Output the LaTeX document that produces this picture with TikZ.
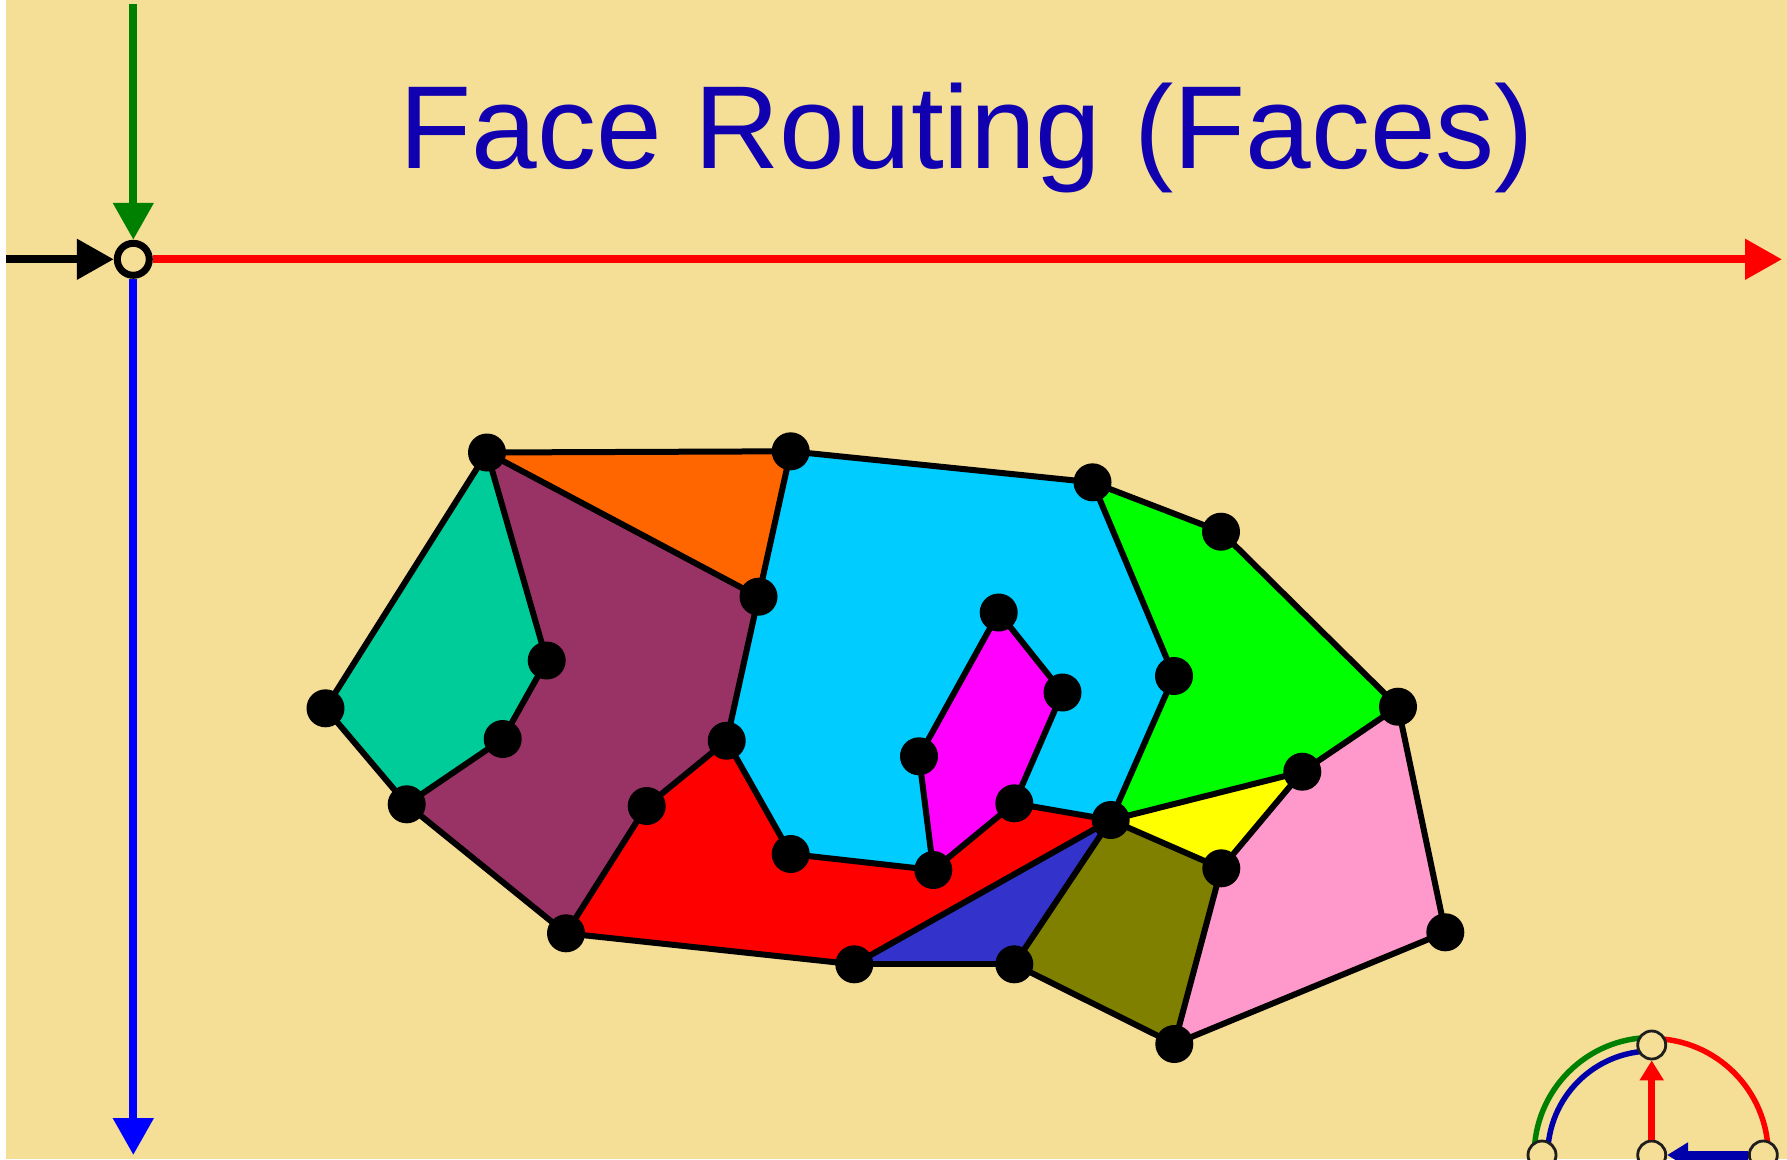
\documentclass[tikz,border=0pt]{standalone}
\usepackage{fontspec}
\setmainfont{Liberation Sans}
\usetikzlibrary{arrows.meta}
\definecolor{bgc}{RGB}{245,222,150}
\definecolor{titlec}{RGB}{16,0,176}
\definecolor{fteal}{HTML}{00CC99}
\definecolor{fmaroon}{HTML}{993366}
\definecolor{forange}{HTML}{FF6600}
\definecolor{fcyan}{HTML}{00CCFF}
\definecolor{fmagenta}{HTML}{FF00FF}
\definecolor{fred}{HTML}{FF0000}
\definecolor{fblue}{HTML}{3333CC}
\definecolor{folive}{HTML}{808000}
\definecolor{fyellow}{HTML}{FFFF00}
\definecolor{fgreen}{HTML}{00FF00}
\definecolor{fpink}{HTML}{FF99CC}
\definecolor{axgreen}{HTML}{008000}
\definecolor{darkblue}{HTML}{0000AA}
\definecolor{ringc}{RGB}{30,30,30}
\pgfdeclarelayer{bglayer}
\pgfdeclarelayer{back}
\pgfsetlayers{bglayer,back,main}
\tikzset{
  dot/.style={circle,fill=black,minimum size=38pt,inner sep=0pt},
  edge/.style={line width=6pt,black,line cap=round},
  ring/.style={circle,draw=ringc,line width=2.8pt,fill=bgc,minimum size=28pt,inner sep=0pt},
  bigtip/.style={-{Triangle[length=37pt,width=39pt]}},
  axis/.style={line width=8pt,bigtip},
  arcline/.style={line width=5.5pt},
}
\begin{document}
\begin{tikzpicture}[x=1pt,y=-1pt]
\useasboundingbox (0,0) rectangle (1787,1159);
\begin{pgfonlayer}{bglayer}
  \fill[white] (0,0) rectangle (1787,1159);
  \fill[bgc] (6,0) rectangle (1787,1159);
\end{pgfonlayer}

% title
\node[titlec,anchor=base,inner sep=0pt,font=\fontsize{118}{140}\selectfont] (title) at (967,168) {Face Routing (Faces)};

% axes
\node[circle,draw=black,line width=7pt,fill=bgc,minimum size=32pt,inner sep=0pt] (orig) at (133.3,259.3) {};
\coordinate (ystart) at (133.3,4);
\coordinate (xstart) at (6,259.3);
\coordinate (xend) at (1782,259.3);
\coordinate (yend) at (133.3,1155);
\draw[axis,axgreen] (ystart) -- (orig);
\draw[axis,black] (xstart) -- (orig);
\draw[axis,red] (orig) -- (xend);
\draw[axis,blue] (orig) -- (yend);

% graph vertices
\node[dot] (A) at (487,452.5) {};
\node[dot] (B) at (790.7,451.3) {};
\node[dot] (C) at (1092.5,482.3) {};
\node[dot] (D) at (1221,531.7) {};
\node[dot] (E) at (758.5,596.7) {};
\node[dot] (F) at (998.7,612.5) {};
\node[dot] (G) at (546.7,660.5) {};
\node[dot] (H) at (1062.5,692.5) {};
\node[dot] (I) at (1174,676) {};
\node[dot] (J) at (325.5,708.3) {};
\node[dot] (K) at (1398,706.7) {};
\node[dot] (L) at (502.7,739) {};
\node[dot] (M) at (726.7,740.7) {};
\node[dot] (N) at (919,756.3) {};
\node[dot] (O) at (1302.3,771.7) {};
\node[dot] (P) at (406.7,804.3) {};
\node[dot] (Q) at (646.7,806) {};
\node[dot] (R) at (1014.3,803.3) {};
\node[dot] (S) at (1110.7,820) {};
\node[dot] (T) at (790.7,854) {};
\node[dot] (U) at (933.3,870) {};
\node[dot] (V) at (1221.3,868.3) {};
\node[dot] (W) at (566,933.3) {};
\node[dot] (X) at (1445.3,932.3) {};
\node[dot] (Y) at (854.3,964.3) {};
\node[dot] (Z) at (1014.3,964.3) {};
\node[dot] (AA) at (1174.3,1044) {};

\begin{pgfonlayer}{back}
  % faces
  \fill[fteal] (J.center) -- (A.center) -- (G.center) -- (L.center) -- (P.center) -- cycle;
  \fill[fmaroon] (A.center) -- (E.center) -- (M.center) -- (Q.center) -- (W.center) -- (P.center) -- (L.center) -- (G.center) -- cycle;
  \fill[forange] (A.center) -- (B.center) -- (E.center) -- cycle;
  \fill[fcyan] (B.center) -- (C.center) -- (I.center) -- (S.center) -- (R.center) -- (H.center) -- (F.center) -- (N.center) -- (U.center) -- (T.center) -- (M.center) -- (E.center) -- cycle;
  \fill[fmagenta] (N.center) -- (F.center) -- (H.center) -- (R.center) -- (U.center) -- cycle;
  \fill[fred] (Q.center) -- (M.center) -- (T.center) -- (U.center) -- (R.center) -- (S.center) -- (Y.center) -- (W.center) -- cycle;
  \fill[fblue] (S.center) -- (Z.center) -- (Y.center) -- cycle;
  \fill[folive] (S.center) -- (V.center) -- (AA.center) -- (Z.center) -- cycle;
  \fill[fyellow] (S.center) -- (O.center) -- (V.center) -- cycle;
  \fill[fgreen] (C.center) -- (D.center) -- (K.center) -- (O.center) -- (S.center) -- (I.center) -- cycle;
  \fill[fpink] (O.center) -- (K.center) -- (X.center) -- (AA.center) -- (V.center) -- cycle;
  % edges
  \draw[edge] (A.center) -- (B.center);
  \draw[edge] (B.center) -- (C.center);
  \draw[edge] (C.center) -- (D.center);
  \draw[edge] (D.center) -- (K.center);
  \draw[edge] (K.center) -- (X.center);
  \draw[edge] (X.center) -- (AA.center);
  \draw[edge] (AA.center) -- (Z.center);
  \draw[edge] (Z.center) -- (Y.center);
  \draw[edge] (Y.center) -- (W.center);
  \draw[edge] (W.center) -- (P.center);
  \draw[edge] (P.center) -- (J.center);
  \draw[edge] (J.center) -- (A.center);
  \draw[edge] (A.center) -- (G.center);
  \draw[edge] (G.center) -- (L.center);
  \draw[edge] (L.center) -- (P.center);
  \draw[edge] (A.center) -- (E.center);
  \draw[edge] (B.center) -- (E.center);
  \draw[edge] (E.center) -- (M.center);
  \draw[edge] (M.center) -- (Q.center);
  \draw[edge] (Q.center) -- (W.center);
  \draw[edge] (M.center) -- (T.center);
  \draw[edge] (T.center) -- (U.center);
  \draw[edge] (U.center) -- (N.center);
  \draw[edge] (N.center) -- (F.center);
  \draw[edge] (F.center) -- (H.center);
  \draw[edge] (H.center) -- (R.center);
  \draw[edge] (U.center) -- (R.center);
  \draw[edge] (R.center) -- (S.center);
  \draw[edge] (C.center) -- (I.center);
  \draw[edge] (I.center) -- (S.center);
  \draw[edge] (S.center) -- (O.center);
  \draw[edge] (O.center) -- (K.center);
  \draw[edge] (O.center) -- (V.center);
  \draw[edge] (S.center) -- (V.center);
  \draw[edge] (V.center) -- (AA.center);
  \draw[edge] (S.center) -- (Z.center);
  \draw[edge] (S.center) -- (Y.center);
\end{pgfonlayer}

% bottom-right widget
\coordinate (wc) at (1651.7,1155);
\node[ring] (w1) at (1542,1155) {};
\node[ring] (w2) at (1651.7,1045) {};
\node[ring] (w3) at (1651.7,1155) {};
\node[ring] (w4) at (1763.3,1155) {};
\begin{pgfonlayer}{back}
  \draw[arcline,axgreen] (wc) ++(180:117.5) arc[start angle=180,end angle=270,radius=117.5];
  \draw[arcline,red] (wc) ++(270:116.5) arc[start angle=270,end angle=360,radius=116.5];
  \draw[arcline,darkblue] (wc) ++(180:104) arc[start angle=180,end angle=270,radius=104];
\end{pgfonlayer}
\draw[red,line width=7.5pt,-{Triangle[length=20pt,width=23pt]}] (w3) -- (w2);
\draw[darkblue,line width=9pt,-{Triangle[length=21pt,width=24pt]}] (w4) -- (w3);
\end{tikzpicture}
\end{document}
